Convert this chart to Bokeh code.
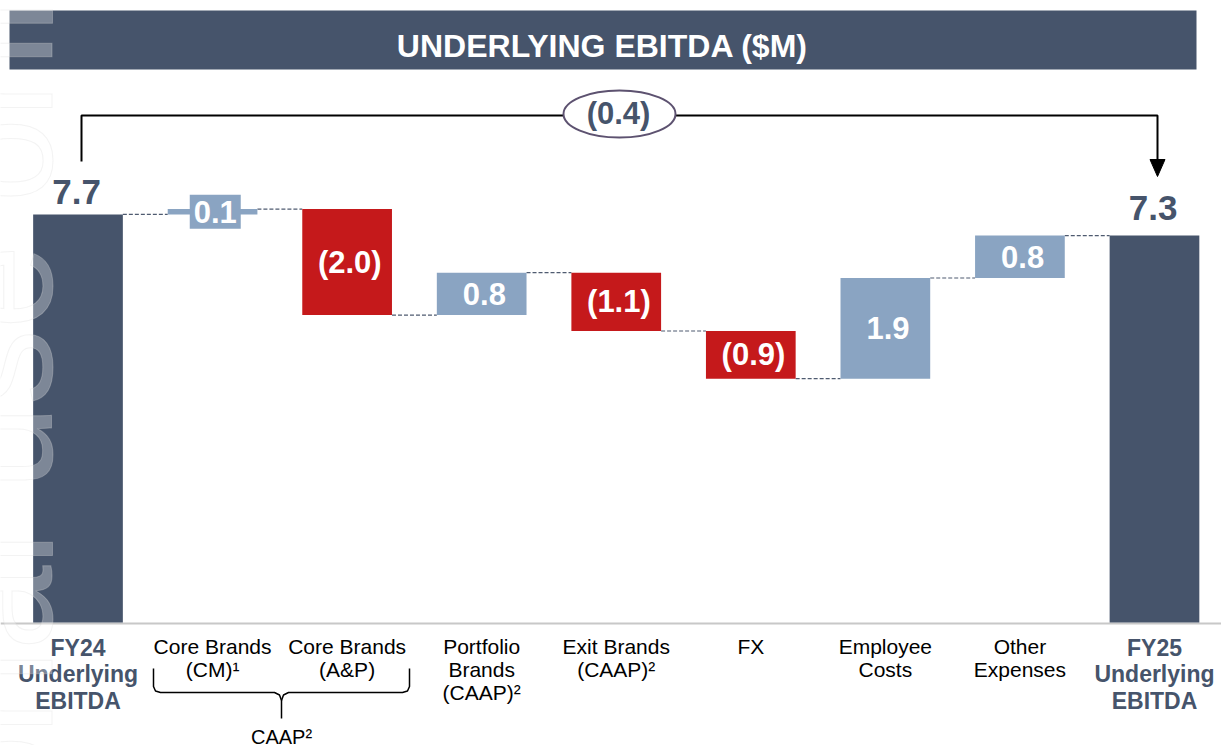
import math
from bokeh.plotting import figure
from bokeh.models import Range1d
from bokeh.core.properties import value
from bokeh.embed import file_html
from bokeh.resources import INLINE

# ---------------- data ----------------
categories = [
    "FY24\nUnderlying\nEBITDA",
    "Core Brands\n(CM)\u00b9",
    "Core Brands\n(A&P)",
    "Portfolio\nBrands\n(CAAP)\u00b2",
    "Exit Brands\n(CAAP)\u00b2",
    "FX",
    "Employee\nCosts",
    "Other\nExpenses",
    "FY25\nUnderlying\nEBITDA",
]
start_total = 7.7
changes = [0.1, -2.0, 0.8, -1.1, -0.9, 1.9, 0.8]
end_total = 7.3
value_labels = ["7.7", "0.1", "(2.0)", "0.8", "(1.1)", "(0.9)", "1.9", "0.8", "7.3"]
bridge_label = "(0.4)"
title_text = "UNDERLYING EBITDA ($M)"
group_label = "CAAP\u00b2"
watermark_text = "For personal use only"

# ---------------- styles ----------------
DARK = "#46546B"
BLUE = "#8AA4C2"
RED = "#C5191B"
FONT = "Liberation Sans"

W, H = 1221, 745
STEP = 134.56
X0 = -77.5 / STEP
X1 = X0 + W / STEP
YS = 53.0
Y1 = 622 / YS
Y0 = Y1 - H / YS
BW = 89.7 / STEP


def gx(px):
    return X0 + px / STEP


def gy(py):
    return Y1 - py / YS


p = figure(width=W, height=H, output_backend="svg", toolbar_location=None,
           x_range=Range1d(X0, X1), y_range=Range1d(Y0, Y1),
           x_axis_location=None, y_axis_location=None, min_border=0,
           tools="")
p.outline_line_color = None
p.grid.visible = False
p.background_fill_color = "white"
p.border_fill_color = "white"

# ---------------- waterfall ----------------
xs = list(range(len(categories)))
bottoms, tops, colors = [0.0], [start_total], [DARK]
levels = [start_total]
level = start_total
for c in changes:
    new = round(level + c, 4)
    bottoms.append(min(level, new))
    tops.append(max(level, new))
    colors.append(BLUE if c > 0 else RED)
    level = new
    levels.append(level)
bottoms.append(0.0)
tops.append(end_total)
colors.append(DARK)

# title bar
p.quad(left=[gx(9)], right=[gx(1196)], top=[gy(10)], bottom=[gy(69)],
       fill_color=DARK, line_color=None)
p.text(x=[gx(602)], y=[gy(45)], text=[title_text], text_color="white",
       text_font=value(FONT), text_font_style="bold", text_font_size="32px",
       text_align="center", text_baseline="middle")

# baseline
p.line(x=[X0, X1], y=[gy(623), gy(623)], line_color="#C8C8C8", line_width=2)

# connectors
for i in range(len(categories) - 1):
    p.line(x=[i + BW / 2, i + 1 - BW / 2], y=[levels[i], levels[i]],
           line_color="#4F5B70", line_width=1.2, line_dash="4 2")

p.vbar(x=xs, bottom=bottoms, top=tops, width=BW, fill_color=colors,
       line_color=None)

# labels
for i, lab in enumerate(value_labels):
    if i == 0 or i == len(categories) - 1:
        off = 22 if i == 0 else 28
        p.text(x=[i - 0.01], y=[tops[i] + off / YS], text=[lab], text_color=DARK,
               text_font=value(FONT), text_font_style="bold", text_font_size="35px",
               text_align="center", text_baseline="middle")
    else:
        mid = (bottoms[i] + tops[i]) / 2
        if tops[i] - bottoms[i] < 0.5:
            p.rect(x=[i + 0.02], y=[mid], width=51, height=34, width_units="screen",
                   height_units="screen", fill_color=BLUE, line_color=None)
        p.text(x=[i + 0.02], y=[mid], text=[lab], text_color="white",
               text_font=value(FONT), text_font_style="bold", text_font_size="31px",
               text_align="center", text_baseline="middle")

# category labels
for i, cat in enumerate(categories):
    bold = i == 0 or i == len(categories) - 1
    lh = 26.5 if bold else 23.0
    y0 = 647 if bold else 646
    for k, line in enumerate(cat.split("\n")):
        p.text(x=[i], y=[gy(y0 + k * lh)], text=[line],
               text_color=DARK if bold else "black",
               text_font=value(FONT), text_font_style="bold" if bold else "normal",
               text_font_size="23px" if bold else "21px",
               text_align="center", text_baseline="middle")

# bracket with arrow
bx = [gx(81), gx(81), gx(1157), gx(1157)]
by = [gy(161), gy(115), gy(115), gy(162)]
p.line(x=bx, y=by, line_color="black", line_width=2)
p.patch(x=[gx(1149.5), gx(1164.5), gx(1157)], y=[gy(159), gy(159), gy(176)],
        fill_color="black", line_color="black")
p.ellipse(x=[gx(619)], y=[gy(113.5)], width=[112 / STEP], height=[47 / YS],
          fill_color="white", line_color="#5D5270", line_width=2)
p.text(x=[gx(618)], y=[gy(112.5)], text=[bridge_label], text_color=DARK,
       text_font=value(FONT), text_font_style="bold", text_font_size="31px",
       text_align="center", text_baseline="middle")

# curly brace under the two Core Brands
left_pts = [(153, 668), (153, 686), (155, 690.5), (160, 692), (274, 692),
            (279, 694.5), (281, 700), (281, 718)]
right_pts = [(409, 668), (409, 686), (407, 690.5), (402, 692), (288, 692),
             (283, 694.5), (281, 700)]
p.multi_line(xs=[[gx(a) for a, b in left_pts], [gx(a) for a, b in right_pts]],
             ys=[[gy(b) for a, b in left_pts], [gy(b) for a, b in right_pts]],
             line_color="black", line_width=1.5)
p.text(x=[gx(281)], y=[gy(736)], text=[group_label], text_color="black",
       text_font=value(FONT), text_font_size="20px",
       text_align="center", text_baseline="middle")

# watermark
p.text(x=[gx(-2)], y=[gy(654)], text=[watermark_text], angle=math.pi / 2,
       text_font=value(FONT), text_font_size="152px",
       text_color="white", text_alpha=0.3,
       text_outline_color="#D6D6D6",
       text_align="center", text_baseline="middle")

open("out.html", "w").write(file_html(p, INLINE))
